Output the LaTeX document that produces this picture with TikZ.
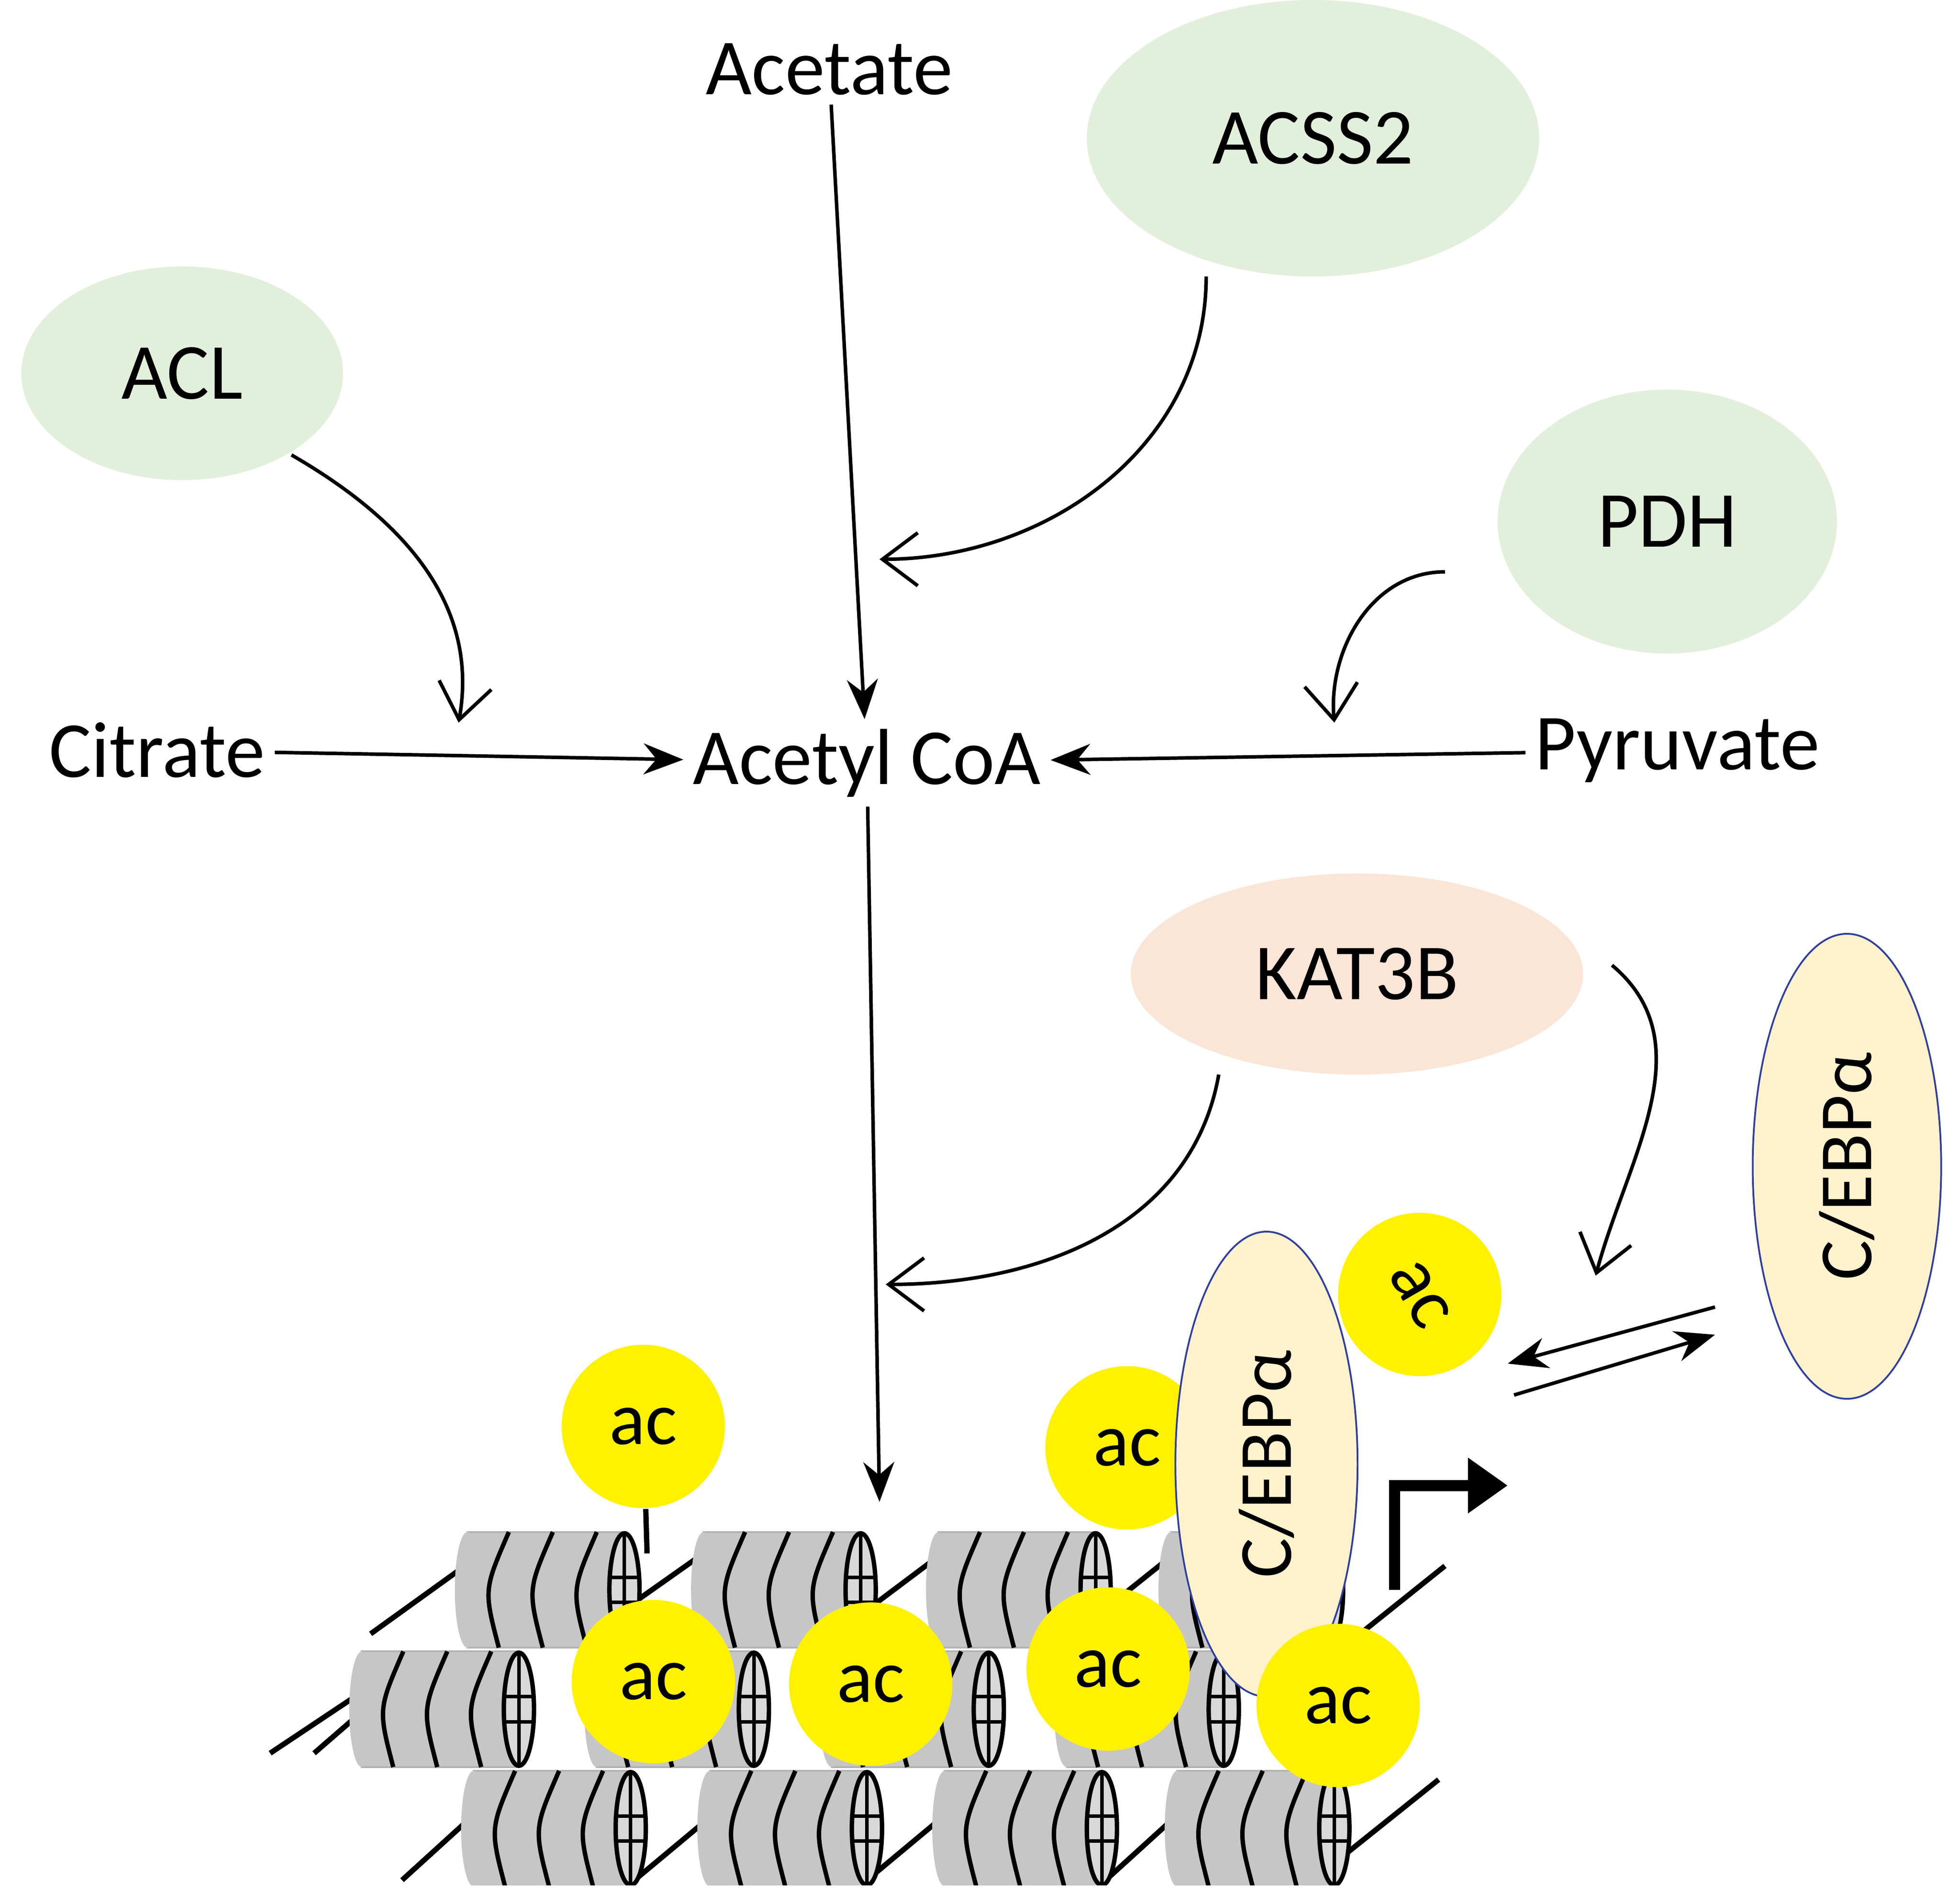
\documentclass[tikz,border=0pt]{standalone}
\usepackage{fontspec}
\setmainfont{Carlito}
\usetikzlibrary{arrows.meta,shapes.geometric}

\definecolor{enzgreen}{HTML}{E2EFDA}
\definecolor{enzpink}{HTML}{FBE5D6}
\definecolor{tfcream}{HTML}{FFF2CC}
\definecolor{tfblue}{HTML}{2F3F9F}

\tikzset{
  lbl/.style={font=\fontsize{18}{20}\selectfont, inner sep=2pt},
  enz/.style={ellipse, fill=enzgreen, font=\fontsize{18}{20}\selectfont},
  acmark/.style={circle, fill=yellow, minimum size=1.3cm, inner sep=0pt, font=\fontsize{17}{19}\selectfont},
  tf/.style={ellipse, draw=tfblue, fill=tfcream, font=\fontsize{17}{19}\selectfont},
  flow/.style={-{Stealth[length=9pt,width=7pt]}, line width=0.8pt},
  curvearr/.style={-{Straight Barb[length=8pt,width=12pt]}, line width=0.8pt},
}

% one nucleosome, left edge and centre height
\newcommand\nucl[2]{
  \fill[gray!45, draw=gray!60] (#1,#2-0.46) rectangle (#1+1.25,#2+0.46);
  \fill[gray!45] (#1,#2) ellipse (0.1 and 0.46);
  \foreach \d in {0.25,0.6,0.95}
    \draw[line width=1pt] (#1+\d,#2-0.46) .. controls (#1+\d-0.12,#2) .. (#1+\d+0.08,#2+0.46);
  \draw[line width=1pt, fill=gray!30] (#1+1.25,#2) ellipse (0.12 and 0.45);
  \draw[line width=0.8pt] (#1+1.25,#2-0.45) -- (#1+1.25,#2+0.45)
    (#1+1.14,#2-0.1) -- (#1+1.36,#2-0.1) (#1+1.14,#2+0.1) -- (#1+1.36,#2+0.1);
}

\begin{document}
\begin{tikzpicture}
\useasboundingbox (0,0) rectangle (15.6,15.06);

% enzymes
\node[enz, minimum width=3.6cm, minimum height=2.2cm] (acss) at (10.45,13.96) {ACSS2};
\node[enz, minimum width=2.56cm, minimum height=1.7cm] (acl) at (1.45,12.09) {ACL};
\node[enz, minimum width=2.7cm, minimum height=2.1cm] (pdh) at (13.27,10.91) {PDH};
\node[enz, fill=enzpink, minimum width=3.6cm, minimum height=1.6cm] (kat) at (10.8,7.31) {KAT3B};

% metabolites
\node[lbl] (acetate) at (6.6,14.51) {Acetate};
\node[lbl] (citrate) at (1.25,9.09) {Citrate};
\node[lbl] (acoa) at (6.9,8.99) {Acetyl CoA};
\node[lbl] (pyr) at (13.35,9.09) {Pyruvate};

% chromatin
\begin{scope}
\clip (0,0.06) rectangle (15.6,15.06);
\draw[line width=1.2pt] (2.15,1.11) -- (2.9,1.61) (2.5,1.11) -- (2.95,1.5)
  (2.95,2.06) -- (3.7,2.6) (4.75,2.1) -- (5.6,2.7) (6.7,2.1) -- (7.5,2.7)
  (8.6,2.1) -- (9.35,2.7) (10.75,2.0) -- (11.5,2.6)
  (3.2,0.1) -- (3.75,0.6) (5.05,0.1) -- (5.65,0.6) (6.9,0.1) -- (7.5,0.6)
  (8.8,0.1) -- (9.35,0.6) (10.7,0.3) -- (11.45,0.9);
\foreach \x in {3.72,5.6,7.47,9.32} \nucl{\x}{2.41};
\foreach \x in {3.77,5.65,7.52,9.37} \nucl{\x}{0.51};
\foreach \x in {2.88,4.75,6.62,8.49} \nucl{\x}{1.46};
\end{scope}

% promoter
\draw[line width=2.5pt, -{Triangle[length=9pt,width=12pt]}] (11.1,2.41) -- (11.1,3.24) -- (12.0,3.24);

% acetyl marks
\node[acmark] (ac1) at (5.12,3.71) {ac};
\node[acmark] (ac2) at (8.97,3.54) {ac};
\node[acmark] (ac3) at (5.2,1.68) {ac};
\node[acmark] (ac4) at (6.93,1.66) {ac};
\node[acmark] (ac5) at (8.82,1.78) {ac};
\draw[line width=1.2pt] (ac1) -- (5.15,2.7);

% transcription factor
\node[tf, rotate=90, minimum width=3.7cm, minimum height=1.45cm] (cebpl) at (10.08,3.41) {C/EBPα};
\node[acmark] (ac6) at (10.65,1.49) {ac};
\node[acmark, rotate=-60] (ac7) at (11.3,4.76) {ac};
\node[tf, rotate=90, minimum width=3.7cm, minimum height=1.5cm] (cebpr) at (14.7,5.78) {C/EBPα};

% metabolic arrows
\coordinate (hist) at (7.0,3.11);
\draw[flow] (acetate) -- (acoa);
\draw[flow] (citrate) -- (acoa);
\draw[flow] (pyr) -- (acoa);
\draw[flow] (acoa) -- (hist);
\coordinate (sacss) at (9.6,12.86);
\coordinate (eacss) at (7.0,10.61);
\draw[curvearr] (sacss) to[out=-90,in=0] (eacss);
\coordinate (sacl) at (2.32,11.44);
\coordinate (eacl) at (3.65,9.31);
\draw[curvearr] (sacl) to[out=-30,in=80] (eacl);
\coordinate (spdh) at (11.5,10.51);
\coordinate (epdh) at (10.62,9.31);
\draw[curvearr] (spdh) to[out=180,in=95] (epdh);
\coordinate (skat) at (9.7,6.51);
\coordinate (ekat) at (7.05,4.84);
\draw[curvearr] (skat) to[out=-100,in=0] (ekat);
\coordinate (skat2) at (12.83,7.38);
\coordinate (ekat2) at (12.7,4.91);
\draw[curvearr] (skat2) to[out=-40,in=75] (ekat2);
\coordinate (r1) at (13.65,4.66);
\coordinate (l1) at (12.0,4.21);
\coordinate (l2) at (12.05,3.96);
\coordinate (r2) at (13.65,4.44);
\draw[flow] (r1) -- (l1);
\draw[flow] (l2) -- (r2);
\end{tikzpicture}
\end{document}
